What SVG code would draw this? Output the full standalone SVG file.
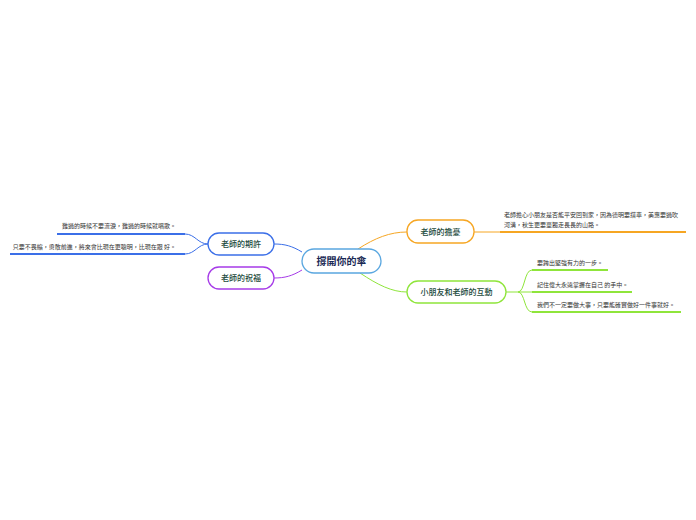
<svg xmlns="http://www.w3.org/2000/svg" width="696" height="520" viewBox="0 0 696 520">
<style>
.node{fill:#fff;stroke-width:1.3}
.nt{font-family:"Noto Sans CJK TC","Noto Sans CJK SC",sans-serif;font-size:8px;fill:#1b4a3c;text-anchor:middle;font-weight:500}
.lt{font-family:"Noto Sans CJK TC","Noto Sans CJK SC",sans-serif;font-size:6px;fill:#333}
.c{fill:none;stroke-width:1}
.u{fill:none;stroke-width:2}
</style>
<rect width="696" height="520" fill="#fff"/>
<g id="connectors">
<path class="c" stroke="#f6a623" d="M358,249 C375,238 390,232 407,232"/>
<path class="c" stroke="#8fe53b" d="M360,273 C378,285 392,292 407,292"/>
<path class="c" stroke="#3b6fe8" d="M302,252 C292,246 285,244 274,244"/>
<path class="c" stroke="#a63be8" d="M302,270 C292,276 285,278 274,278"/>
<path class="c" stroke="#f6a623" d="M474,232 L500,232"/>
<path class="u" stroke="#f6a623" d="M500,232 L686,232"/>
<path class="c" stroke="#8fe53b" d="M506,292 L518,292 C525,292 524,270 532,270 M518,292 L532,292 M518,292 C525,292 524,312 532,312"/>
<path class="u" stroke="#8fe53b" d="M532,270 L608,270 M532,292 L632,292 M532,312 L681,312"/>
<path class="c" stroke="#3b6fe8" d="M208,244 C198,244 195,234 185,234 M208,244 C198,244 195,254 185,254"/>
<path class="u" stroke="#3b6fe8" d="M57,234 L185,234 M10,254 L185,254"/>
</g>
<g id="center">
<rect class="node" x="302" y="249" width="79" height="24" rx="12" stroke="#5aa7e0"/>
<text x="341.5" y="265" font-family="'Noto Sans CJK TC','Noto Sans CJK SC',sans-serif" font-size="10" font-weight="bold" fill="#1a2a55" text-anchor="middle">撐開你的傘</text>
</g>
<g id="worry">
<rect class="node" x="407" y="220" width="67" height="23" rx="11" stroke="#f6a623"/>
<text class="nt" x="440.5" y="234.5">老師的擔憂</text>
<text class="lt" x="504" y="217">老師擔心小朋友是否能平安回到家，因為德明要搭車，美惠要過吹</text>
<text class="lt" x="504" y="227">河溝，秋生更要單獨走長長的山路。</text>
</g>
<g id="interact">
<rect class="node" x="407" y="281" width="99" height="22" rx="11" stroke="#8fe53b"/>
<text class="nt" x="456.5" y="295">小朋友和老師的互動</text>
<text class="lt" x="537" y="265">要跨出堅強有力的一步。</text>
<text class="lt" x="537" y="287">記住偉大永遠掌握在自己 的手中。</text>
<text class="lt" x="537" y="307">我們不一定要做大事，只要能確實做好一件事就好。</text>
</g>
<g id="expect">
<rect class="node" x="208" y="233" width="66" height="22" rx="11" stroke="#3b6fe8"/>
<text class="nt" x="241" y="247">老師的期許</text>
<text class="lt" x="176" y="228" text-anchor="end">難過的時候不要流淚，難過的時候就唱歌。</text>
<text class="lt" x="176" y="249" text-anchor="end">只要不畏縮，勇敢前進，將來會比現在更聰明，比現在跟 好。</text>
</g>
<g id="bless">
<rect class="node" x="208" y="267" width="66" height="22" rx="11" stroke="#a63be8"/>
<text class="nt" x="241" y="281">老師的祝福</text>
</g>
</svg>
